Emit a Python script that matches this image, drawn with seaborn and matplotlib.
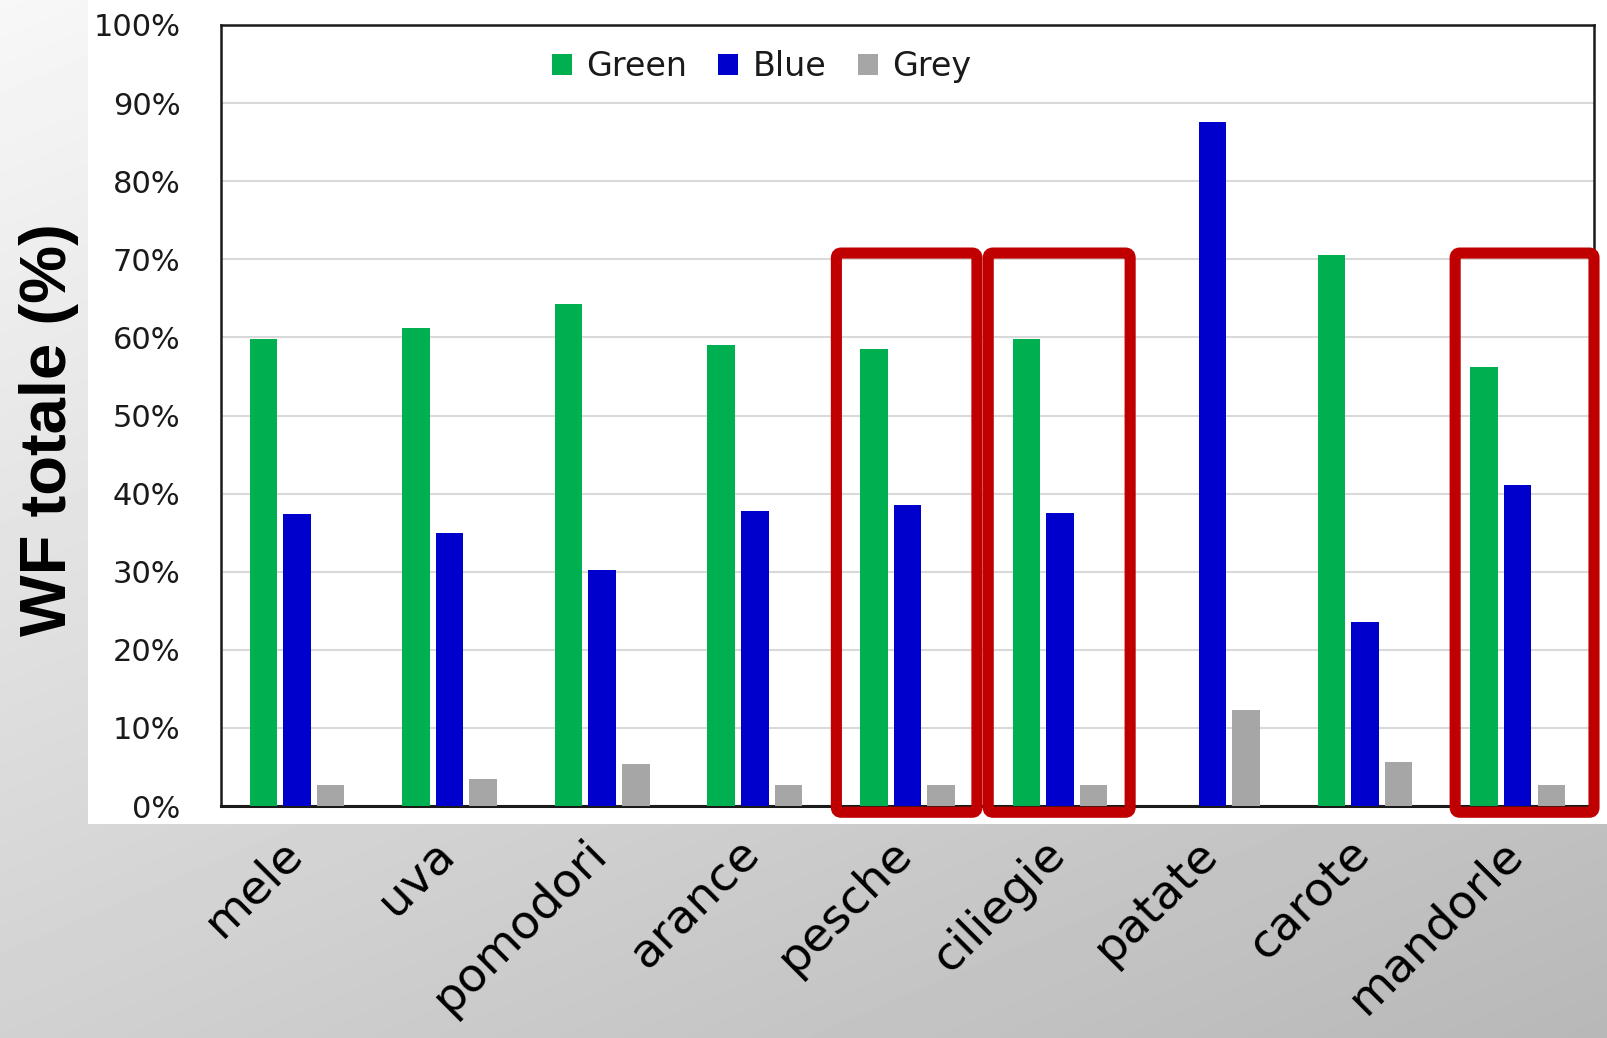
import numpy as np
import pandas as pd
import matplotlib
matplotlib.use("Agg")
import matplotlib.pyplot as plt
from matplotlib.patches import Rectangle, FancyBboxPatch
from matplotlib.transforms import ScaledTranslation
import seaborn as sns

# Water footprint shares (% of total) per crop
crops = ["mele", "uva", "pomodori", "arance", "pesche",
         "ciliegie", "patate", "carote", "mandorle"]
green = [59.8, 61.2, 64.3, 59.0, 58.5, 59.8, 0.0, 70.6, 56.2]
blue = [37.4, 34.9, 30.2, 37.8, 38.6, 37.5, 87.6, 23.6, 41.1]
grey = [2.7, 3.4, 5.4, 2.7, 2.7, 2.7, 12.3, 5.6, 2.7]
components = ["Green", "Blue", "Grey"]
y_ticks = [0, 10, 20, 30, 40, 50, 60, 70, 80, 90, 100]

# crops framed in red: (name, left edge, right edge) in category units
highlighted = [("pesche", 3.535, 4.456),
               ("ciliegie", 4.53, 5.46),
               ("mandorle", 7.59, 8.50)]

colors = {"Green": "#00B050", "Blue": "#0000CC", "Grey": "#A6A6A6"}

df = pd.DataFrame({
    "crop": crops * 3,
    "component": [c for c in components for _ in crops],
    "value": green + blue + grey,
})

sns.set_theme(style="white")
plt.rcParams["font.family"] = ["DejaVu Sans"]

W, H = 1608, 1038
fig = plt.figure(figsize=(W / 100, H / 100), dpi=100)

# slide background: soft diagonal grey gradient
bg = fig.add_axes([0, 0, 1, 1], zorder=-10)
yy, xx = np.mgrid[0:1:200j, 0:1:300j]
shade = 0.97 - 0.15 * yy - 0.10 * xx
bg.imshow(shade, cmap="gray", vmin=0, vmax=1, aspect="auto",
          extent=[0, 1, 0, 1], origin="upper", interpolation="bilinear")
bg.add_patch(Rectangle((88 / W, 1 - 824 / H), 1 - 88 / W, 824 / H,
                       facecolor="white", edgecolor="none"))
bg.set_xlim(0, 1)
bg.set_ylim(0, 1)
bg.axis("off")

ax = fig.add_axes([220.7 / W, 1 - 806 / H, 1373.3 / W, 781 / H])
ax.set_facecolor("white")

sns.barplot(data=df, x="crop", y="value", hue="component",
            order=crops, hue_order=components, palette=colors,
            width=0.66, gap=0.18, saturation=1, linewidth=0,
            errorbar=None, ax=ax, zorder=3)

ax.set_xlim(-0.5, len(crops) - 0.5)
ax.set_ylim(0, 100)
ax.set_yticks(y_ticks)
ax.set_yticklabels([f"{v}%" for v in y_ticks])
ax.yaxis.grid(True, color="#D9D9D9", linewidth=1.5, zorder=0)
ax.xaxis.grid(False)
ax.set_axisbelow(True)
for side in ["left", "right", "top", "bottom"]:
    ax.spines[side].set_visible(True)
    ax.spines[side].set_color("#1a1a1a")
    ax.spines[side].set_linewidth(1.8)
ax.spines["bottom"].set_linewidth(2.2)

ax.tick_params(axis="y", length=0, pad=29, labelsize=22, labelcolor="#1a1a1a")
ax.tick_params(axis="x", length=0, pad=18, labelsize=34, labelcolor="black")
ax.set_xlabel("")
plt.setp(ax.get_xticklabels(), rotation=45, ha="right", va="top")
for lab in ax.get_xticklabels():
    lab.set_transform(lab.get_transform()
                      + ScaledTranslation(0.14, 0, fig.dpi_scale_trans))

ax.set_ylabel("WF totale (%)", fontsize=47, fontweight="bold",
              family=["Liberation Sans", "DejaVu Sans"], color="black",
              va="center", ha="center")
ax.yaxis.set_label_coords(49 / W, 1 - 430 / H, transform=fig.transFigure)

leg = ax.legend(loc="center left", bbox_to_anchor=(0.241, 0.947), ncol=3,
                frameon=False, fontsize=24, borderpad=0, borderaxespad=0,
                handlelength=0.6, handleheight=0.6, handletextpad=0.42,
                columnspacing=0.95)
for t in leg.get_texts():
    t.set_color("#1a1a1a")

# red frames around the highlighted crops (drawn in pixel space)
fig.canvas.draw()
for name, left, right in highlighted:
    x0, y0 = ax.transData.transform((left, -0.8))
    x1, y1 = ax.transData.transform((right, 70.8))
    box = FancyBboxPatch((x0, y0), x1 - x0, y1 - y0,
                         boxstyle="round,pad=0,rounding_size=5",
                         facecolor="none", edgecolor="#C00000",
                         linewidth=8, transform=None, zorder=20)
    fig.add_artist(box)

fig.savefig("out.png", dpi=100)
